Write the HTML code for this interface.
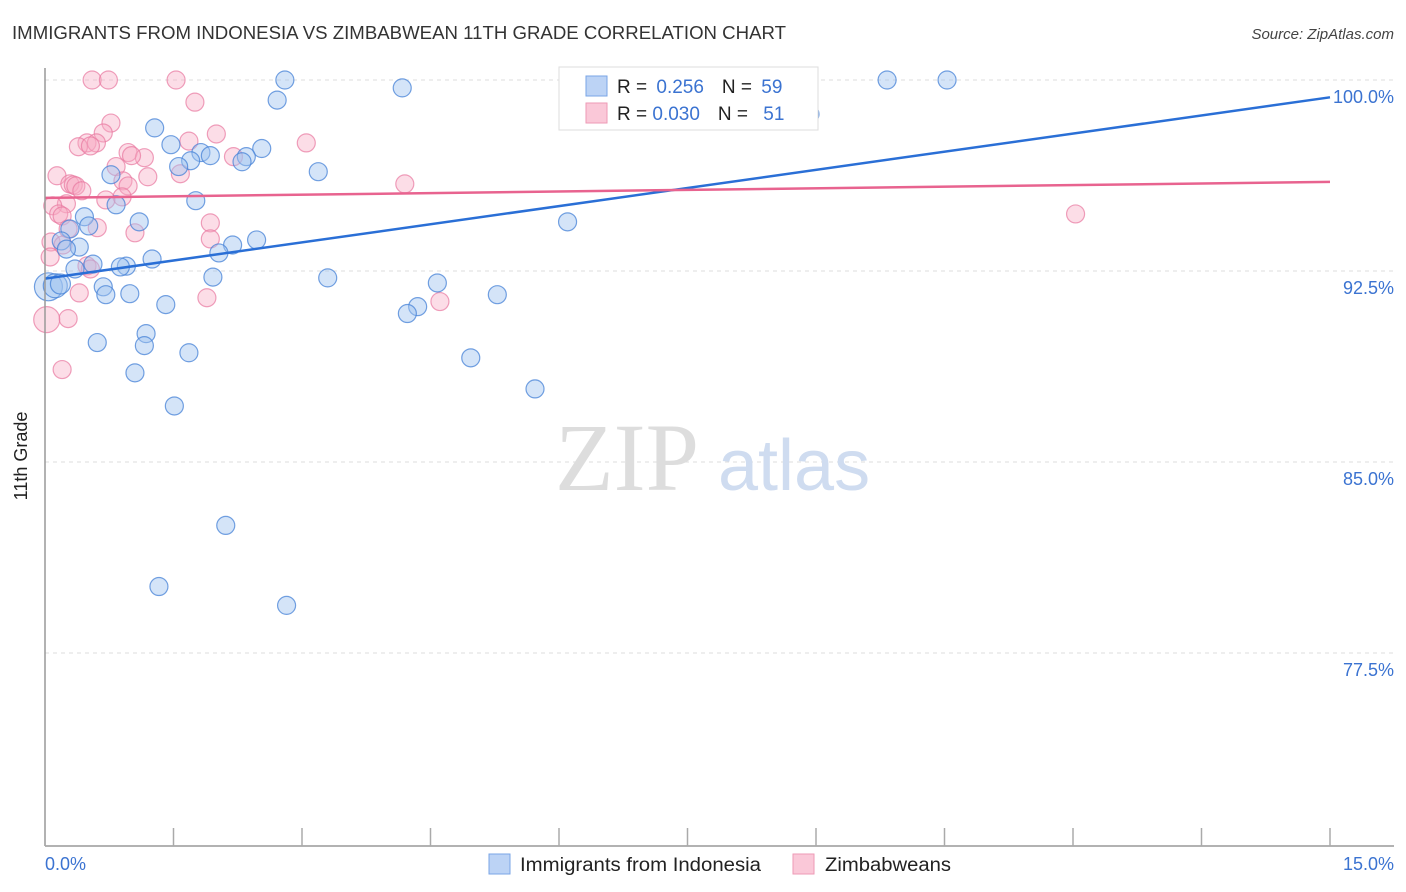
<!DOCTYPE html>
<html><head><meta charset="utf-8"><style>
body{margin:0;background:#fff;font-family:"Liberation Sans",sans-serif;}
svg{display:block}
</style></head><body>
<svg id="chart" width="1406" height="892" xmlns="http://www.w3.org/2000/svg">
<text x="12" y="39" font-size="18" fill="#333" textLength="774" lengthAdjust="spacingAndGlyphs">IMMIGRANTS FROM INDONESIA VS ZIMBABWEAN 11TH GRADE CORRELATION CHART</text>
<text x="1394" y="39" font-size="15" fill="#444" font-style="italic" text-anchor="end">Source: ZipAtlas.com</text>
<g id="grid"></g>
<g><text x="555" y="490" font-size="96" fill="#ddd" font-family="Liberation Serif,serif">ZIP</text><text x="718" y="490" font-size="72" fill="#cfdcf0">atlas</text></g>
<g id="pts"></g>
<g id="lines"></g>
<line x1="45" y1="68" x2="45" y2="846" stroke="#999" stroke-width="1.5"/>
<line x1="45" y1="846" x2="1394" y2="846" stroke="#999" stroke-width="1.5"/>
<g id="ticks"></g>
<text x="27" y="456" font-size="18" fill="#222" text-anchor="middle" transform="rotate(-90 27 456)">11th Grade</text>
<text x="45" y="870" font-size="18" fill="#3b73d1">0.0%</text>
<text x="1394" y="870" font-size="18" fill="#3b73d1" text-anchor="end">15.0%</text>
<g>
<rect x="559" y="67" width="259" height="63" fill="#fff" stroke="#ddd"/>
<rect x="586" y="76" width="21" height="20" fill="#bcd3f5" stroke="#7aa5e6"/>
<rect x="586" y="103" width="21" height="20" fill="#fac8d8" stroke="#ee9ab6"/>
<text x="617" y="93" font-size="19" fill="#222">R = <tspan fill="#3b73d1" dx="4">0.256</tspan><tspan dx="18" fill="#222">N = </tspan><tspan fill="#3b73d1" dx="4">59</tspan></text>
<text x="617" y="120" font-size="19" fill="#222">R = <tspan fill="#3b73d1">0.030</tspan><tspan dx="18" fill="#222">N = </tspan><tspan fill="#3b73d1" dx="10">51</tspan></text>
</g>
<g>
<rect x="489" y="854" width="21" height="20" fill="#bcd3f5" stroke="#7aa5e6"/>
<text x="520" y="871" font-size="19" fill="#222" textLength="241" lengthAdjust="spacingAndGlyphs">Immigrants from Indonesia</text>
<rect x="793" y="854" width="21" height="20" fill="#fac8d8" stroke="#ee9ab6"/>
<text x="825" y="871" font-size="19" fill="#222" textLength="126" lengthAdjust="spacingAndGlyphs">Zimbabweans</text>
</g>
</svg>
<script>
const blueX=[2.80,4.17,9.83,10.53,2.71,8.93,1.28,1.47,2.53,1.82,1.93,2.35,2.3,1.70,1.56,3.19,0.77,0.83,1.76,0.46,1.1,0.51,0.29,6.10,0.19,0.4,0.25,2.47,2.19,2.03,1.25,0.56,0.95,0.88,0.35,1.96,3.3,4.58,0.04,0.12,0.18,0.68,0.99,0.71,5.28,1.41,4.35,4.23,1.18,1.16,0.61,1.68,4.97,1.05,5.72,1.51,2.11,1.33,2.82];
const blueY=[100,99.69,100,100,99.21,98.66,98.12,97.46,97.31,97.15,97.03,96.99,96.79,96.83,96.6,96.4,96.28,95.1,95.26,94.63,94.43,94.27,94.15,94.43,93.68,93.44,93.36,93.72,93.52,93.21,92.97,92.77,92.69,92.66,92.58,92.26,92.23,92.03,91.88,91.92,91.99,91.88,91.61,91.57,91.57,91.18,91.1,90.83,90.04,89.57,89.69,89.29,89.09,88.5,87.87,87.2,82.51,80.11,79.37];
const blueR=[9,9,9,9,9,9,9,9,9,9,9,9,9,9,9,9,9,9,9,9,9,9,9,9,9,9,9,9,9,9,9,9,9,9,9,9,9,9,14,12,10,9,9,9,9,9,9,9,9,9,9,9,9,9,9,9,9,9,9];
const pinkX=[0.55,0.74,1.53,1.75,0.77,0.68,2.0,0.49,0.39,3.05,1.68,0.83,0.97,1.16,1.01,2.2,0.14,1.58,1.2,0.91,0.29,0.33,0.36,0.97,4.2,0.43,0.9,0.71,0.25,0.09,0.16,0.2,1.93,0.61,0.27,1.05,1.93,0.07,0.21,0.06,0.49,0.53,0.4,1.89,4.61,12.03,0.27,0.02,0.2,0.6,0.53];
const pinkY=[100,100,100,99.13,98.31,97.92,97.88,97.53,97.38,97.53,97.6,96.6,97.15,96.95,97.03,96.99,96.24,96.32,96.2,96.04,95.92,95.88,95.84,95.84,95.92,95.65,95.41,95.29,95.14,95.06,94.74,94.66,94.39,94.2,94.15,94.0,93.76,93.64,93.52,93.05,92.7,92.58,91.64,91.45,91.3,94.74,90.63,90.59,88.63,97.53,97.41];
const pinkR=[9,9,9,9,9,9,9,9,9,9,9,9,9,9,9,9,9,9,9,9,9,9,9,9,9,9,9,9,9,9,9,9,9,9,9,9,9,9,9,9,9,9,9,9,9,9,9,13,9,9,9];
const yTicks=[100,92.5,85,77.5];
const yTickLabels=["100.0%","92.5%","85.0%","77.5%"];
const xTicks=[0,1.5,3,4.5,6,7.5,9,10.5,12,13.5,15];
const blueLine=[92.2,99.32];
const pinkLine=[95.37,96.0];
const X=v=>45+v*(1285/15);
const Y=v=>80+(100-v)*(191/7.5);
const NS="http://www.w3.org/2000/svg";
function mk(t,a,p){const e=document.createElementNS(NS,t);for(const k in a)e.setAttribute(k,a[k]);p.appendChild(e);return e;}
const grid=document.getElementById('grid'),ticks=document.getElementById('ticks'),pts=document.getElementById('pts'),lines=document.getElementById('lines');
yTicks.forEach((v,i)=>{
 const l=mk('line',{x1:45,x2:1394,y1:Y(v),y2:Y(v),stroke:'#ddd','stroke-dasharray':'4,4'},grid);
 
 
 const t=mk('text',{x:1394,y:Y(v)+23,'font-size':18,fill:'#3b73d1','text-anchor':'end'},ticks);
 t.textContent=yTickLabels[i];
 
 
});
xTicks.forEach(v=>{
 const l=mk('line',{x1:X(v),x2:X(v),y1:828,y2:846,stroke:'#aaa','stroke-width':1.5},ticks);
 
 
});
pinkX.forEach((x,i)=>{
 const c=mk('circle',{cx:X(x),cy:Y(pinkY[i]),r:pinkR[i],fill:'rgba(247,170,195,0.4)',stroke:'rgba(232,120,160,0.7)','stroke-width':1.2},pts);
 
 
});
blueX.forEach((x,i)=>{
 const c=mk('circle',{cx:X(x),cy:Y(blueY[i]),r:blueR[i],fill:'rgba(160,195,240,0.45)',stroke:'rgba(70,130,215,0.75)','stroke-width':1.2},pts);
 
 
});
const bl=mk('line',{x1:X(0),y1:Y(blueLine[0]),x2:X(15),y2:Y(blueLine[1]),stroke:'#2a6fd6','stroke-width':2.5},lines);


const pl=mk('line',{x1:X(0),y1:Y(pinkLine[0]),x2:X(15),y2:Y(pinkLine[1]),stroke:'#e8638f','stroke-width':2.5},lines);


</script>
</body></html>
